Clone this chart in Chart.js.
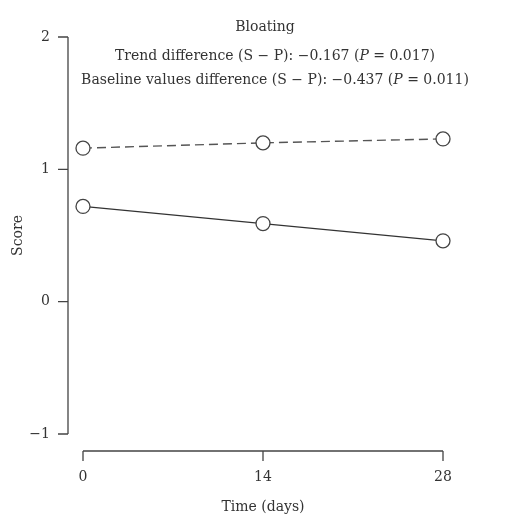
<!DOCTYPE html>
<html>
<head>
<meta charset="utf-8">
<script src="https://cdn.jsdelivr.net/npm/chart.js@4"></script>
<style>
  html, body { margin: 0; padding: 0; background: #fff; }
  #wrap { width: 509px; height: 516px; }
</style>
</head>
<body>
<div id="wrap"><canvas id="myChart"></canvas></div>
<script>
const days = [0, 14, 28];
const placeboScore = [1.16, 1.20, 1.23];
const synbioticScore = [0.72, 0.59, 0.46];
const yTicks = [-1, 0, 1, 2];
// title lines, split so the P can be set in italics
const titleLines = [
    [["Bloating", false]],
    [["Trend difference (S \u2212 P): \u22120.167 (", false], ["P", true], [" = 0.017)", false]],
    [["Baseline values difference (S \u2212 P): \u22120.437 (", false], ["P", true], [" = 0.011)", false]]
];

const serif = "'DejaVu Serif', 'Liberation Serif', serif";

function drawLine(ctx, parts, cx, cy) {
    let total = 0;
    parts.forEach(function (p) {
        ctx.font = (p[1] ? "italic " : "") + "14px " + serif;
        total += ctx.measureText(p[0]).width;
    });
    let x = cx - total / 2;
    parts.forEach(function (p) {
        ctx.font = (p[1] ? "italic " : "") + "14px " + serif;
        ctx.fillText(p[0], x, cy);
        x += ctx.measureText(p[0]).width;
    });
}

// draws the detached axis lines and the title text
const axesPlugin = {
    id: 'axesPlugin',
    afterDraw(chart) {
        const ctx = chart.ctx;
        const x = chart.scales.x;
        const y = chart.scales.y;
        const area = chart.chartArea;
        ctx.save();
        ctx.strokeStyle = '#444';
        ctx.lineWidth = 1.3;
        // y axis
        const ax = area.left - 15;
        ctx.beginPath();
        ctx.moveTo(ax, y.getPixelForValue(2));
        ctx.lineTo(ax, y.getPixelForValue(-1));
        yTicks.forEach(function (v) {
            ctx.moveTo(ax - 10, y.getPixelForValue(v));
            ctx.lineTo(ax, y.getPixelForValue(v));
        });
        ctx.stroke();
        // x axis
        const ay = area.bottom + 17;
        ctx.beginPath();
        ctx.moveTo(x.getPixelForValue(0), ay);
        ctx.lineTo(x.getPixelForValue(28), ay);
        days.forEach(function (d) {
            ctx.moveTo(x.getPixelForValue(d), ay);
            ctx.lineTo(x.getPixelForValue(d), ay + 10);
        });
        ctx.stroke();
        // title
        ctx.fillStyle = '#333';
        ctx.textAlign = 'left';
        ctx.textBaseline = 'middle';
        const cx = (area.left + area.right) / 2 + 12;
        drawLine(ctx, titleLines[0], cx - 10, 27);
        drawLine(ctx, titleLines[1], cx, 56);
        drawLine(ctx, titleLines[2], cx, 80);
        ctx.restore();
    }
};

const ctx = document.getElementById('myChart');

new Chart(ctx, {
    type: 'line',
    data: {
        datasets: [{
            label: 'Placebo',
            data: days.map((d, i) => ({ x: d, y: placeboScore[i] })),
            borderColor: '#555',
            borderWidth: 1.4,
            borderDash: [9, 5],
            pointRadius: 7,
            pointBackgroundColor: '#fff',
            pointBorderColor: '#444',
            pointBorderWidth: 1.3,
            clip: false
        }, {
            label: 'Synbiotic',
            data: days.map((d, i) => ({ x: d, y: synbioticScore[i] })),
            borderColor: '#333',
            borderWidth: 1.2,
            pointRadius: 7,
            pointBackgroundColor: '#fff',
            pointBorderColor: '#444',
            pointBorderWidth: 1.3,
            clip: false
        }]
    },
    options: {
        responsive: true,
        maintainAspectRatio: false,
        animation: false,
        layout: { padding: { left: 0, right: 66, top: 37, bottom: 0 } },
        plugins: {
            legend: { display: false },
            tooltip: { enabled: false }
        },
        scales: {
            x: {
                type: 'linear',
                min: 0,
                max: 28,
                afterFit(scale) {
                    scale.height = 82;
                    scale.paddingLeft = 0;
                    scale.paddingRight = 0;
                },
                afterBuildTicks(scale) { scale.ticks = days.map(v => ({ value: v })); },
                grid: { display: false, drawTicks: false },
                border: { display: false },
                ticks: { padding: 35, color: '#333', font: { family: serif, size: 14 } },
                title: {
                    display: true,
                    text: 'Time (days)',
                    color: '#333',
                    padding: 0,
                    font: { family: serif, size: 14 }
                }
            },
            y: {
                min: -1,
                max: 2,
                afterFit(scale) {
                    scale.width = 83;
                    scale.paddingTop = 0;
                    scale.paddingBottom = 0;
                },
                afterBuildTicks(scale) { scale.ticks = yTicks.map(v => ({ value: v })); },
                grid: { display: false, drawTicks: false },
                border: { display: false },
                ticks: {
                    padding: 33,
                    color: '#333',
                    font: { family: serif, size: 14 },
                    callback: v => (v < 0 ? '\u2212' + Math.abs(v) : String(v))
                },
                title: {
                    display: true,
                    text: 'Score',
                    color: '#333',
                    padding: { top: 10, bottom: 0 },
                    font: { family: serif, size: 14 }
                }
            }
        }
    },
    plugins: [axesPlugin]
});
</script>
</body>
</html>
